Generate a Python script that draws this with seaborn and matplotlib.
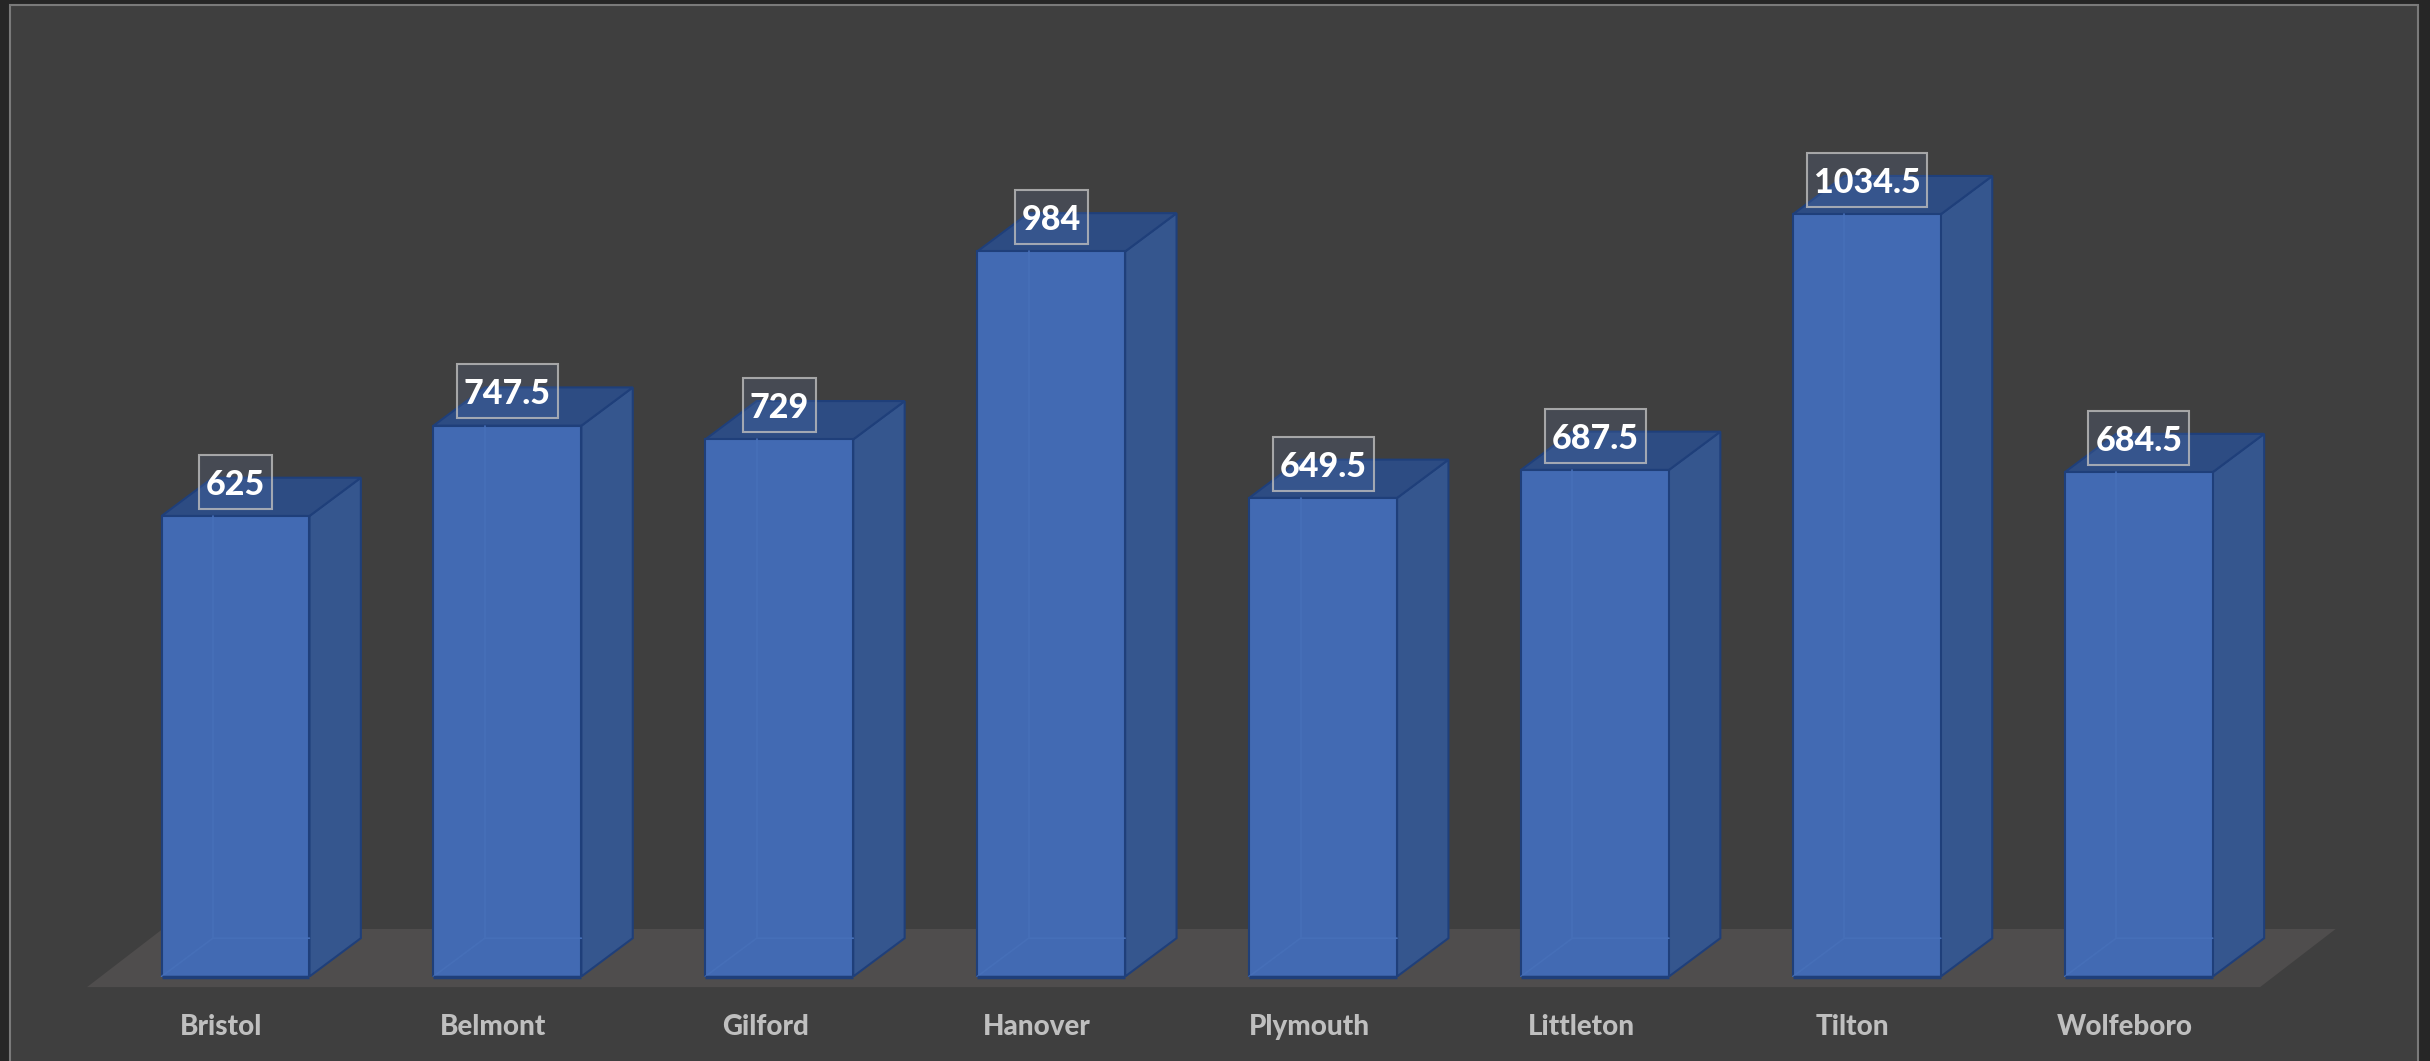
import matplotlib
matplotlib.use("Agg")
import matplotlib.pyplot as plt
import matplotlib.transforms as mtransforms
from matplotlib.patches import Polygon, Rectangle
from matplotlib.path import Path
import seaborn as sns
import pandas as pd

towns = ["Bristol", "Belmont", "Gilford", "Hanover", "Plymouth", "Littleton", "Tilton", "Wolfeboro"]
values = [625, 747.5, 729, 984, 649.5, 687.5, 1034.5, 684.5]
value_labels = ["625", "747.5", "729", "984", "649.5", "687.5", "1034.5", "684.5"]

W, H = 2430, 1061

# Colours
OUTER = "#262626"
BG = "#3f3f3f"
FRAME = "#7a7a7a"
FLOOR = "#4f4d4d"
FRONT = "#426ab3"
SIDE = "#35568e"
TOP = "#2d4c83"
EDGE = "#1f3f7a"
INNER = "#466fb8"

sns.set_theme(style="dark")
plt.rcParams["font.family"] = ["Lato", "DejaVu Sans"]


def label_box(x0, y0, width, height, mutation_size):
    """Data label box, more padding above the text than below it."""
    pad_x, pad_bottom, pad_top = 7, 8, 14
    x1, y1 = x0 + width + pad_x, y0 + height + pad_top
    x0, y0 = x0 - pad_x, y0 - pad_bottom
    return Path([(x0, y0), (x1, y0), (x1, y1), (x0, y1), (x0, y0)], closed=True)


df = pd.DataFrame({"town": towns, "value": values})

fig = plt.figure(figsize=(W / 100, H / 100), dpi=100, facecolor=OUTER)
fig.add_artist(Rectangle((10 / W, -0.01), 2408 / W, 1.01 - 5 / H, transform=fig.transFigure,
                         facecolor=BG, edgecolor=FRAME, linewidth=1.5, zorder=-1))

# axes laid out in pixels so the bars land where they do in the reference
base_px = 976.5
ax = fig.add_axes([99.55 / W, (H - base_px) / H, 2175.2 / W, 936.5 / H])
ax.patch.set_visible(False)

sns.barplot(data=df, x="town", y="value", order=towns, color=FRONT, saturation=1,
            width=0.544, edgecolor=EDGE, linewidth=1.5, zorder=3, ax=ax)
ax.set_xlim(-0.5, 7.5)
ax.set_ylim(0, 1271)
ax.set_xlabel("")
ax.set_ylabel("")
ax.set_yticks([])
ax.grid(False)
sns.despine(ax=ax, left=True, bottom=True)

# floor
floor_pts = [(-0.546, -14.4), (7.446, -14.4), (7.724, 64.5), (-0.268, 64.5)]
ax.add_patch(Polygon(floor_pts, closed=True, facecolor=FLOOR, edgecolor="none", zorder=1, clip_on=False))

# 3d depth of the columns
dx, dy = 0.189, 52.0
for bar, label in zip(list(ax.patches)[:len(towns)], value_labels):
    x0, w, h = bar.get_x(), bar.get_width(), bar.get_height()
    x1 = x0 + w
    ax.add_patch(Polygon([(x1, 0), (x1 + dx, dy), (x1 + dx, h + dy), (x1, h)], closed=True,
                         facecolor=SIDE, edgecolor=EDGE, linewidth=1.5, zorder=2))
    ax.add_patch(Polygon([(x0, h), (x0 + dx, h + dy), (x1 + dx, h + dy), (x1, h)], closed=True,
                         facecolor=TOP, edgecolor=EDGE, linewidth=1.5, zorder=2))
    # faint back edges seen through the front face
    ax.plot([x0 + dx, x0 + dx], [dy, h], color=INNER, lw=1.2, zorder=4)
    ax.plot([x0, x0 + dx, x1], [0, dy, dy], color=INNER, lw=1.2, zorder=4)
    ax.plot([x0, x1], [0, 0], color=EDGE, lw=2.5, zorder=4, clip_on=False, solid_capstyle="butt")
    ax.annotate(label, xy=(x0 + w / 2, h), xytext=(0, 11), textcoords="offset points",
                ha="center", va="bottom", fontsize=24.5, fontweight=900, color="white", zorder=6,
                bbox=dict(boxstyle=label_box, facecolor=(0.44, 0.56, 0.78, 0.15),
                          edgecolor=(0.75, 0.75, 0.75, 0.8), linewidth=1.5))

# category labels sit a little left of the column centres
ax.tick_params(axis="x", length=0, pad=27, labelsize=20, labelcolor="#bfbfbf")
shift = mtransforms.ScaledTranslation(-14 / 100, 0, fig.dpi_scale_trans)
for tick_label in ax.get_xticklabels():
    tick_label.set_fontweight(900)
    tick_label.set_transform(tick_label.get_transform() + shift)

fig.savefig("out.png", dpi=100, facecolor=fig.get_facecolor())
